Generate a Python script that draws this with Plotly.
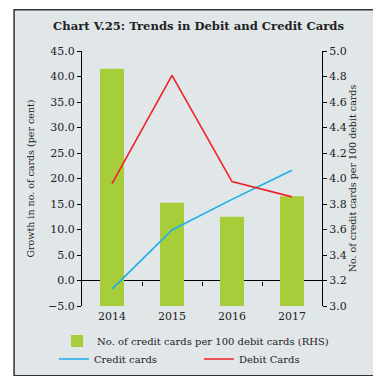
import plotly.graph_objects as go

years = ["2014", "2015", "2016", "2017"]
credit_per_100_debit = [4.86, 3.81, 3.70, 3.86]   # RHS bars
credit_growth = [-1.7, 9.9, 15.9, 21.6]           # LHS line
debit_growth = [19.0, 40.2, 19.4, 16.4]           # LHS line

left_ticks = [-5 + 5 * i for i in range(11)]
right_ticks = [round(3.0 + 0.2 * i, 1) for i in range(11)]

FONT = "DejaVu Serif"
BG = "#e1e6e9"

fig = go.Figure()

fig.add_trace(go.Bar(
    x=years, y=credit_per_100_debit, yaxis="y", xaxis="x",
    marker=dict(color="#a8cd3a", line=dict(width=0)),
    width=0.4, name="No. of credit cards per 100 debit cards (RHS)",
    legend="legend",
))
fig.add_trace(go.Scatter(
    x=years, y=credit_growth, yaxis="y2", xaxis="x", mode="lines",
    line=dict(color="#1aaeea", width=1.6), name="Credit cards",
    legend="legend2",
))
fig.add_trace(go.Scatter(
    x=years, y=debit_growth, yaxis="y2", xaxis="x", mode="lines",
    line=dict(color="#ee2229", width=1.6), name="Debit Cards",
    legend="legend2",
))

fig.update_layout(
    width=381, height=376,
    margin=dict(l=74, r=67, t=43, b=77),
    paper_bgcolor="white",
    plot_bgcolor="rgba(0,0,0,0)",
    font=dict(family=FONT, size=11, color="#222"),
    title=dict(text="<b>Chart V.25: Trends in Debit and Credit Cards</b>",
               x=0.5, xref="container", xanchor="center",
               y=1 - 18 / 376, yref="container", yanchor="middle",
               font=dict(family=FONT, size=11.6, color="#222")),
    xaxis=dict(type="category", range=[-0.5, 3.5], showline=False,
               showgrid=False, ticks="", tickfont=dict(size=11),
               ticklabelstandoff=2),
    xaxis2=dict(overlaying="x", anchor="free", position=0.1,
                range=[-0.5, 3.5], tickvals=[0.5, 1.5, 2.5],
                showticklabels=False, ticks="outside", ticklen=4,
                tickcolor="black", showline=False, showgrid=False,
                zeroline=False),
    yaxis=dict(side="right", range=[3.0, 5.0], tickvals=right_ticks,
               tickformat=".1f", showgrid=False, zeroline=False,
               showline=True, linecolor="black", linewidth=1,
               ticks="outside", ticklen=4, tickcolor="black",
               title=dict(text="No. of credit cards per 100 debit cards",
                          font=dict(size=9.5), standoff=0)),
    yaxis2=dict(side="left", overlaying="y", range=[-5, 45],
                tickvals=left_ticks, tickformat=".1f", showgrid=False,
                zeroline=True, zerolinecolor="black", zerolinewidth=1,
                showline=True, linecolor="black", linewidth=1,
                ticks="outside", ticklen=4, tickcolor="black",
                title=dict(text="Growth in no. of cards (per cent)",
                           font=dict(size=9.5), standoff=11)),
    legend=dict(orientation="h", x=-0.104, xanchor="left", y=-0.133,
                yanchor="middle", bgcolor="rgba(0,0,0,0)",
                font=dict(size=10), itemwidth=30),
    legend2=dict(orientation="h", x=-0.117, xanchor="left", y=-0.203,
                 yanchor="middle", bgcolor="rgba(0,0,0,0)",
                 font=dict(size=10), itemwidth=30,
                 entrywidth=100, entrywidthmode="pixels"),
    showlegend=True,
    shapes=[dict(type="rect", xref="paper", yref="paper",
                 x0=-0.283, x1=1.258, y0=-0.274, y1=1.162,
                 fillcolor=BG, line=dict(color="#333", width=1.5),
                 layer="below")],
)

# dummy trace so xaxis2 is drawn
fig.add_trace(go.Scatter(x=[None], y=[None], xaxis="x2", yaxis="y2",
                         showlegend=False, hoverinfo="skip"))

fig.write_html("out.html")
